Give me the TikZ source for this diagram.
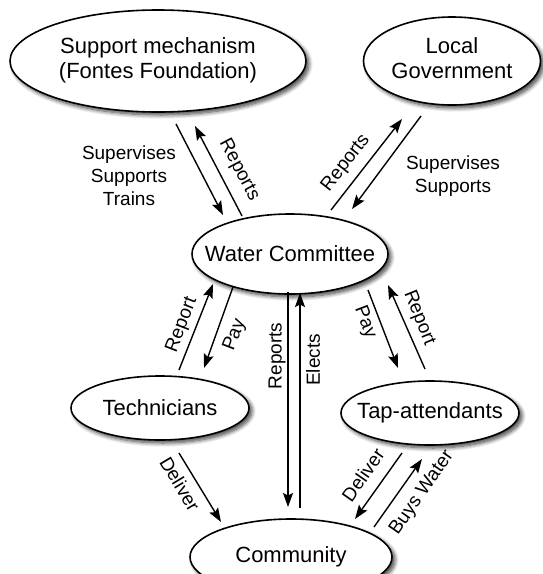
\documentclass[tikz,border=0pt]{standalone}
\usepackage{fontspec}
\setmainfont{Liberation Sans}
\usetikzlibrary{shapes.geometric,arrows.meta,shadows.blur}
\begin{document}
\begin{tikzpicture}[x=1pt,y=-1pt,
  ell/.style={ellipse, draw, line width=1.6pt, fill=white, inner sep=0pt,
    font=\fontsize{22}{25}\selectfont,
    blur shadow={shadow xshift=3pt, shadow yshift=-3pt, shadow blur radius=4pt, shadow blur steps=8, shadow opacity=75}},
  arr/.style={line width=1.4pt, -{Stealth[length=14pt,width=10pt,inset=2.5pt]}},
  lbl/.style={font=\fontsize{19}{23}\selectfont, inner sep=0pt, align=center}]
\useasboundingbox (0,0) rectangle (542,574);

% nodes
\node[ell, minimum width=296pt, minimum height=102pt] (sm) at (158,61)
  {\makebox[0pt]{\begin{tabular}{@{}c@{}}Support mechanism\\(Fontes Foundation)\end{tabular}}};
\node[ell, minimum width=177pt, minimum height=88pt] (lg) at (452,61)
  {\makebox[0pt]{\begin{tabular}{@{}c@{}}Local\\Government\end{tabular}}};
\node[ell, minimum width=196pt, minimum height=80pt] (wc) at (290,254)
  {\makebox[0pt]{Water Committee}};
\node[ell, minimum width=178pt, minimum height=64pt] (te) at (160,408)
  {\makebox[0pt]{Technicians}};
\node[ell, minimum width=178pt, minimum height=64pt] (ta) at (430,413)
  {\makebox[0pt]{Tap-attendants}};
\node[ell, minimum width=202pt, minimum height=76pt] (co) at (291,557)
  {\makebox[0pt]{Community}};

% connector end points
\coordinate (sm1) at (176,124); \coordinate (wc1) at (223,215);
\coordinate (wc2) at (242,216); \coordinate (sm2) at (195,126);
\coordinate (wc3) at (331,210); \coordinate (lg1) at (402,119);
\coordinate (lg2) at (421,116); \coordinate (wc4) at (352,209);
\coordinate (te1) at (179,370); \coordinate (wc5) at (213,284);
\coordinate (wc6) at (233,287); \coordinate (te2) at (204,368);
\coordinate (wc7) at (288,292); \coordinate (co1) at (288,507);
\coordinate (co2) at (300,508); \coordinate (wc8) at (300,293);
\coordinate (wc9) at (368,290); \coordinate (ta1) at (398,368);
\coordinate (ta2) at (425,369); \coordinate (wc10) at (388,285);
\coordinate (te3) at (179,453); \coordinate (co3) at (221,522);
\coordinate (ta3) at (402,453); \coordinate (co4) at (355,519);
\coordinate (co5) at (374,527); \coordinate (ta4) at (422,459);

% connectors
\draw[arr] (sm1) -- (wc1);
\draw[arr] (wc2) -- (sm2);
\draw[arr] (wc3) -- (lg1);
\draw[arr] (lg2) -- (wc4);
\draw[arr] (te1) -- (wc5);
\draw[arr] (wc6) -- (te2);
\draw[arr] (wc7) -- (co1);
\draw[arr] (co2) -- (wc8);
\draw[arr] (wc9) -- (ta1);
\draw[arr] (ta2) -- (wc10);
\draw[arr] (te3) -- (co3);
\draw[arr] (ta3) -- (co4);
\draw[arr] (co5) -- (ta4);

% labels
\node[lbl] (l1) at (129,176) {Supervises\\Supports\\Trains};
\node[lbl, rotate=-62] (l2) at (239,170) {Reports};
\node[lbl, rotate=52] (l3) at (346,163) {Reports};
\node[lbl] (l4) at (453,176) {Supervises\\Supports};
\node[lbl, rotate=69] (l5) at (182,325) {Report};
\node[lbl, rotate=69] (l6) at (235,335) {Pay};
\node[lbl, rotate=90] (l7) at (277,356) {Reports};
\node[lbl, rotate=90] (l8) at (313,360) {Elects};
\node[lbl, rotate=-69] (l9) at (365,322) {Pay};
\node[lbl, rotate=-68] (l10) at (419,318) {Report};
\node[lbl, rotate=-59] (l11) at (180,484) {Deliver};
\node[lbl, rotate=55] (l12) at (363,475) {Deliver};
\node[lbl, rotate=55] (l13) at (422,493) {Buys Water};
\end{tikzpicture}
\end{document}
